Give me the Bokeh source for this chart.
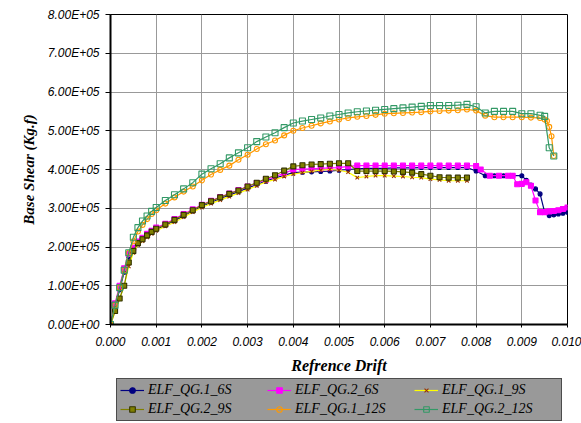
from bokeh.plotting import figure
from bokeh.models import Legend, LegendItem, FixedTicker, Range1d
from bokeh.layouts import column
from bokeh.embed import file_html
from bokeh.resources import INLINE

# ---------------- data ----------------
x_ticks = [0.0, 0.001, 0.002, 0.003, 0.004, 0.005, 0.006, 0.007, 0.008, 0.009, 0.010]
x_tick_labels = ["0.000", "0.001", "0.002", "0.003", "0.004", "0.005",
                 "0.006", "0.007", "0.008", "0.009", "0.010"]
y_ticks = [0, 100000, 200000, 300000, 400000, 500000, 600000, 700000, 800000]
y_tick_labels = ["0.00E+00", "1.00E+05", "2.00E+05", "3.00E+05", "4.00E+05",
                 "5.00E+05", "6.00E+05", "7.00E+05", "8.00E+05"]

series_names = ["ELF_QG.1_6S", "ELF_QG.2_6S", "ELF_QG.1_9S",
                "ELF_QG.2_9S", "ELF_QG.1_12S", "ELF_QG.2_12S"]

# drift readings shared by all curves up to 0.0078
drift_base = [0.0, 0.0001, 0.0002, 0.0003, 0.0004, 0.0005, 0.0006, 0.0007, 0.0008, 0.0009,
              0.0010, 0.0012, 0.0014, 0.0016, 0.0018, 0.0020, 0.0022, 0.0024, 0.0026, 0.0028,
              0.0030, 0.0032, 0.0034, 0.0036, 0.0038, 0.0040, 0.0042, 0.0044, 0.0046, 0.0048,
              0.0050, 0.0052, 0.0054, 0.0056, 0.0058, 0.0060, 0.0062, 0.0064, 0.0066, 0.0068,
              0.0070, 0.0072, 0.0074, 0.0076, 0.0078]

# base shear in units of 1e5 kg.f
qg1_6s_x = drift_base + [0.0080, 0.0082, 0.0084, 0.0086, 0.0088, 0.0090, 0.0091, 0.0092,
                         0.0093, 0.0094, 0.0095, 0.0096, 0.0097, 0.0098, 0.0099, 0.0100]
qg1_6s_y = [0, 0.45, 0.9, 1.35, 1.75, 1.95, 2.1, 2.2, 2.3, 2.38,
            2.45, 2.56, 2.68, 2.8, 2.93, 3.05, 3.15, 3.25, 3.34, 3.43,
            3.52, 3.61, 3.7, 3.78, 3.85, 3.92, 3.93, 3.94, 3.95, 3.96,
            3.98, 4.0, 4.02, 4.03, 4.03, 4.03, 4.04, 4.04, 4.04, 4.05,
            4.05, 4.05, 4.05, 4.05, 4.05,
            3.96, 3.84, 3.84, 3.84, 3.84, 3.84, 3.72, 3.6,
            3.5, 3.37, 2.9, 2.81, 2.83, 2.85, 2.87, 2.9]

qg2_6s_x = drift_base + [0.0080, 0.0081, 0.0083, 0.0085, 0.0087, 0.0088, 0.0089, 0.0090,
                         0.0091, 0.0092, 0.0093, 0.0094, 0.0095, 0.0096, 0.0097, 0.0098,
                         0.0099, 0.0100]
qg2_6s_y = [0, 0.55, 1.0, 1.45, 1.82, 1.98, 2.14, 2.24, 2.34, 2.42,
            2.5, 2.6, 2.72, 2.85, 2.97, 3.09, 3.19, 3.29, 3.38, 3.47,
            3.56, 3.65, 3.74, 3.82, 3.9, 4.0, 4.01, 4.02, 4.03, 4.04,
            4.05, 4.08, 4.1, 4.1, 4.1, 4.1, 4.1, 4.1, 4.1, 4.1,
            4.1, 4.1, 4.1, 4.1, 4.1,
            4.09, 4.0, 3.84, 3.84, 3.84, 3.84, 3.62, 3.63,
            3.67, 3.58, 3.2, 2.9, 2.9, 2.92, 2.93, 2.95,
            2.98, 3.02]

qg1_9s_x = drift_base
qg1_9s_y = [0, 0.33, 0.67, 1.0, 1.5, 1.85, 2.05, 2.15, 2.25, 2.34,
            2.42, 2.53, 2.64, 2.77, 2.9, 3.02, 3.12, 3.21, 3.3, 3.39,
            3.48, 3.58, 3.68, 3.74, 3.82, 3.88, 3.92, 3.95, 3.98, 4.0,
            3.98, 3.93, 3.79, 3.82, 3.84, 3.84, 3.83, 3.82, 3.8, 3.79,
            3.75, 3.73, 3.71, 3.71, 3.71]

qg2_9s_x = drift_base
qg2_9s_y = [0, 0.35, 0.67, 1.0, 1.6, 1.9, 2.1, 2.2, 2.3, 2.39,
            2.47, 2.58, 2.7, 2.83, 2.95, 3.08, 3.18, 3.28, 3.37, 3.46,
            3.56, 3.66, 3.76, 3.85, 3.97, 4.08, 4.11, 4.13, 4.14, 4.15,
            4.16, 4.16, 3.96, 3.96, 3.96, 3.96, 3.95, 3.94, 3.92, 3.88,
            3.84, 3.8, 3.79, 3.79, 3.79]

qg1_12s_x = drift_base + [0.0080, 0.0082, 0.0084, 0.0086, 0.0088, 0.0090, 0.0092, 0.0094,
                          0.0095, 0.00955, 0.0096, 0.00965, 0.0097]
qg1_12s_y = [0, 0.5, 0.95, 1.4, 1.85, 2.15, 2.4, 2.57, 2.72, 2.85,
             2.95, 3.12, 3.28, 3.43, 3.56, 3.72, 3.87, 3.99, 4.1, 4.25,
             4.38, 4.53, 4.65, 4.75, 4.88, 5.0, 5.07, 5.13, 5.19, 5.24,
             5.29, 5.33, 5.36, 5.38, 5.41, 5.44, 5.45, 5.46, 5.47, 5.48,
             5.5, 5.51, 5.52, 5.53, 5.55,
             5.52, 5.39, 5.35, 5.35, 5.35, 5.35, 5.34, 5.33,
             5.29, 5.25, 5.1, 4.86, 4.35]

qg2_12s_x = drift_base + [0.0080, 0.0082, 0.0084, 0.0086, 0.0088, 0.0090, 0.0092, 0.0094,
                          0.0095, 0.0096, 0.0097]
qg2_12s_y = [0, 0.5, 0.95, 1.4, 1.85, 2.25, 2.5, 2.67, 2.8, 2.92,
             3.02, 3.2, 3.35, 3.5, 3.66, 3.88, 4.02, 4.15, 4.3, 4.43,
             4.56, 4.72, 4.84, 4.95, 5.08, 5.2, 5.25, 5.29, 5.33, 5.38,
             5.42, 5.46, 5.49, 5.51, 5.53, 5.55, 5.57, 5.59, 5.61, 5.63,
             5.65, 5.65, 5.65, 5.66, 5.68,
             5.62, 5.46, 5.5, 5.5, 5.5, 5.44, 5.44, 5.4,
             5.37, 4.56, 4.35]

SHEAR_UNIT = 1e5  # values above are in 1e5 kg.f

# ---------------- main figure ----------------
p = figure(width=581, height=376, output_backend="svg", toolbar_location=None,
           x_range=Range1d(0, 0.010), y_range=Range1d(0, 800000),
           min_border_left=110, min_border_right=14, min_border_top=14,
           min_border_bottom=50,
           background_fill_color="white", border_fill_color="white")

p.outline_line_color = "#000000"
p.outline_line_width = 1

p.xaxis.ticker = FixedTicker(ticks=x_ticks)
p.yaxis.ticker = FixedTicker(ticks=y_ticks)
p.xaxis.major_label_overrides = dict(zip(x_ticks, x_tick_labels))
p.yaxis.major_label_overrides = dict(zip(y_ticks, y_tick_labels))

for ax in (p.xaxis[0], p.yaxis[0]):
    ax.axis_line_color = "black"
    ax.axis_line_width = 2
    ax.major_tick_line_color = "black"
    ax.major_tick_in = 0
    ax.minor_tick_line_color = None
    ax.major_label_text_font = "Liberation Sans"
    ax.major_label_text_font_style = "italic"
    ax.major_label_text_font_size = "12px"
    ax.major_label_text_color = "black"
    ax.axis_label_text_font = "Liberation Serif"
    ax.axis_label_text_font_style = "bold italic"
    ax.axis_label_text_color = "black"

p.yaxis.major_tick_out = 5
p.yaxis.major_label_standoff = 6
p.xaxis.major_tick_out = 3
p.xaxis.major_label_standoff = 9
p.xaxis.axis_label = "Refrence Drift"
p.yaxis.axis_label = "Base Shear (Kg.f)"
p.xaxis.axis_label_text_font_size = "16px"
p.yaxis.axis_label_text_font_size = "15px"
p.xaxis.axis_label_standoff = 8
p.yaxis.axis_label_standoff = 8

p.grid.grid_line_color = "#999999"
p.grid.grid_line_width = 1

styles = [
    (qg1_6s_x, qg1_6s_y, "#000080", "circle", "#000080", "#000080", 4),
    (qg2_6s_x, qg2_6s_y, "#FF00FF", "square", "#FF00FF", "#FF00FF", 5),
    (qg1_9s_x, qg1_9s_y, "#FFFF00", "x", "#993300", None, 5),
    (qg2_9s_x, qg2_9s_y, "#808000", "square", "#333300", "#808000", 5),
    (qg1_12s_x, qg1_12s_y, "#FF9900", "circle", "#FF9900", None, 5),
    (qg2_12s_x, qg2_12s_y, "#339966", "square", "#339966", None, 6),
]

# ---------------- legend strip (frame is aligned with the main frame) ----------------
pl = figure(width=581, height=47, output_backend="svg", toolbar_location=None,
            x_range=Range1d(0, 1), y_range=Range1d(0, 1),
            x_axis_type=None, y_axis_type=None,
            min_border_left=110, min_border_right=14, min_border_top=0, min_border_bottom=0,
            background_fill_color="white", border_fill_color="white")
pl.outline_line_color = None
pl.grid.visible = False

nan = float("nan")
items = []
for name, (xs, ys, lc, mk, mlc, mfc, ms) in zip(series_names, styles):
    yv = [v * SHEAR_UNIT for v in ys]
    p.line(xs, yv, line_color=lc, line_width=1.2)
    p.scatter(xs, yv, marker=mk, size=ms, line_color=mlc,
              fill_color=mfc if mfc else None, line_width=1.1)
    # placeholder renderers (NaN, not drawn) that only carry the legend styling
    l1 = pl.line([nan], [nan], line_color=lc, line_width=1.2)
    l2 = pl.scatter([nan], [nan], marker=mk, size=ms, line_color=mlc,
                    fill_color=mfc if mfc else None, line_width=1.1)
    items.append(LegendItem(label=name, renderers=[l1, l2]))

# legend is filled column by column: reorder so rows read like the reference
order = [0, 3, 1, 4, 2, 5]
legend = Legend(items=[items[i] for i in order], ncols=3, location=(6, 2),
                background_fill_color="#999999", background_fill_alpha=1,
                border_line_color="black", border_line_width=1.5,
                label_text_font="Liberation Serif", label_text_font_style="italic",
                label_text_font_size="14px", label_text_color="black",
                glyph_width=24, glyph_height=14, label_height=14,
                label_width=116, label_standoff=4, spacing=3, padding=3, margin=0)
pl.add_layout(legend, "center")

layout = column(p, pl, spacing=0)
open("out.html", "w").write(file_html(layout, INLINE))
